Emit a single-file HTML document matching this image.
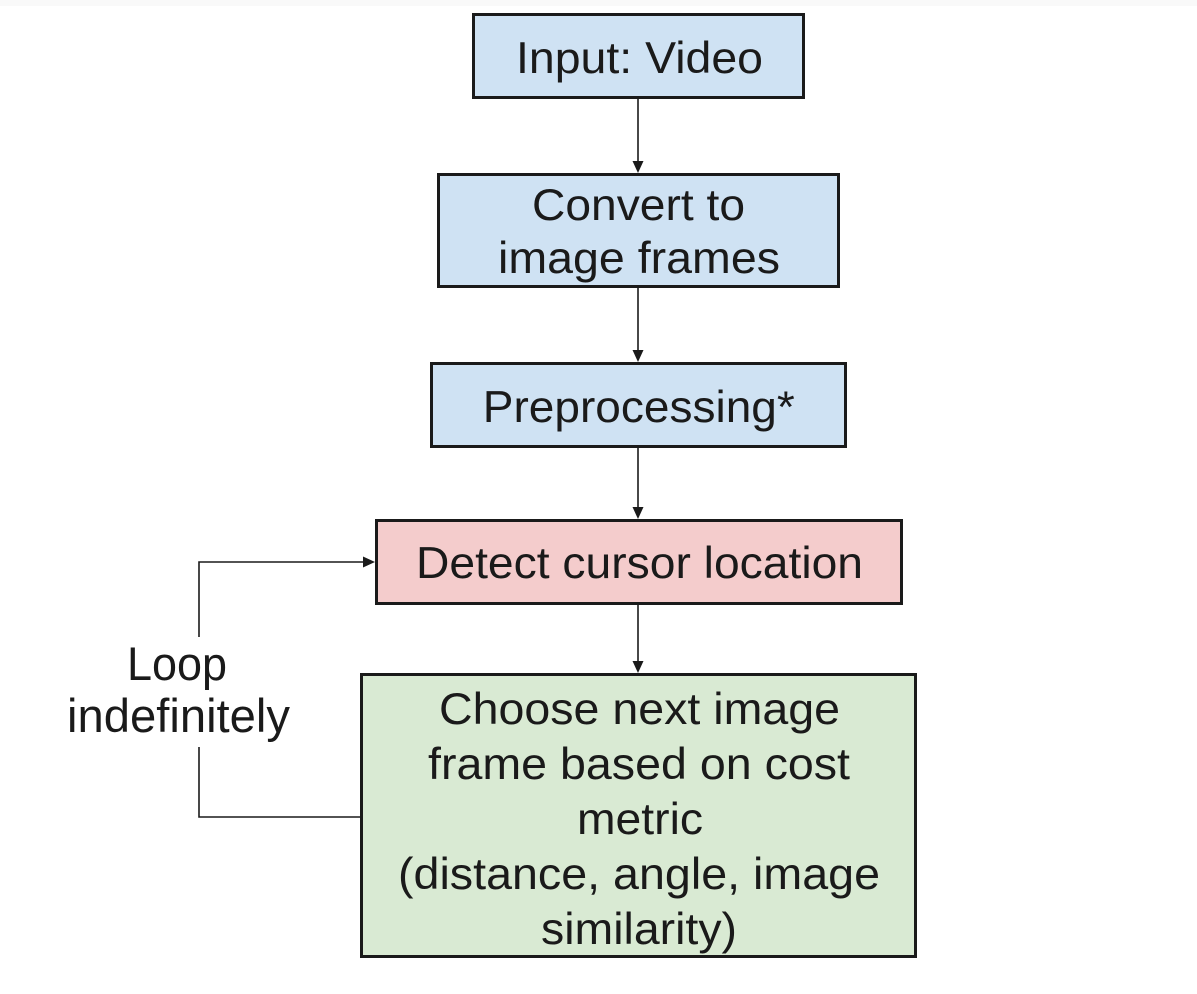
<!DOCTYPE html>
<html>
<head>
<meta charset="utf-8">
<style>
  html, body { margin: 0; padding: 0; background: #ffffff; }
  body { width: 1197px; height: 994px; overflow: hidden; }
  svg { display: block; }
  text { font-family: "Liberation Sans", Arial, sans-serif; fill: #1a1a1a; }
</style>
</head>
<body>
<svg width="1197" height="994" viewBox="0 0 1197 994" xmlns="http://www.w3.org/2000/svg">
  <rect x="0" y="0" width="1197" height="994" fill="#ffffff"/>
  <rect x="0" y="0" width="1197" height="6" fill="#f9f9f9"/>

  <!-- Connectors -->
  <g stroke="#1a1a1a" stroke-width="1.6" fill="none">
    <line x1="638" y1="99" x2="638" y2="162"/>
    <line x1="638" y1="288" x2="638" y2="351"/>
    <line x1="638" y1="448" x2="638" y2="508"/>
    <line x1="638" y1="605" x2="638" y2="662"/>
    <!-- loop -->
    <polyline points="199,637 199,562 364,562"/>
    <polyline points="199,747 199,817 361,817"/>
  </g>
  <g fill="#1a1a1a">
    <polygon points="632.5,161 643.5,161 638,173"/>
    <polygon points="632.5,350 643.5,350 638,362"/>
    <polygon points="632.5,507 643.5,507 638,519"/>
    <polygon points="632.5,661 643.5,661 638,673"/>
    <polygon points="363,556.5 363,567.5 375,562"/>
  </g>

  <!-- Boxes -->
  <g stroke="#1a1a1a" stroke-width="3">
    <rect x="473.5" y="14.5" width="330" height="83" fill="#cfe2f3"/>
    <rect x="438.5" y="174.5" width="400" height="112" fill="#cfe2f3"/>
    <rect x="431.5" y="363.5" width="414" height="83" fill="#cfe2f3"/>
    <rect x="376.5" y="520.5" width="525" height="83" fill="#f4cccc"/>
    <rect x="361.5" y="674.5" width="554" height="282" fill="#d9ead3"/>
  </g>

  <!-- Box text -->
  <g font-size="44.5" text-anchor="middle">
    <text x="639.5" y="73" textLength="247" lengthAdjust="spacingAndGlyphs">Input: Video</text>
    <text x="638.5" y="220" textLength="213" lengthAdjust="spacingAndGlyphs">Convert to</text>
    <text x="639" y="273" textLength="282" lengthAdjust="spacingAndGlyphs">image frames</text>
    <text x="638.8" y="422" textLength="312" lengthAdjust="spacingAndGlyphs">Preprocessing*</text>
    <text x="639.5" y="578" textLength="447" lengthAdjust="spacingAndGlyphs">Detect cursor location</text>
    <text x="639.5" y="724" textLength="401" lengthAdjust="spacingAndGlyphs">Choose next image</text>
    <text x="639" y="779" textLength="422" lengthAdjust="spacingAndGlyphs">frame based on cost</text>
    <text x="640" y="834" textLength="126" lengthAdjust="spacingAndGlyphs">metric</text>
    <text x="639" y="889" textLength="482" lengthAdjust="spacingAndGlyphs">(distance, angle, image</text>
    <text x="639" y="944" textLength="196" lengthAdjust="spacingAndGlyphs">similarity)</text>
  </g>

  <!-- Loop label -->
  <g font-size="47" text-anchor="middle">
    <text x="177" y="680" textLength="100" lengthAdjust="spacingAndGlyphs">Loop</text>
    <text x="178.5" y="732" textLength="223" lengthAdjust="spacingAndGlyphs">indefinitely</text>
  </g>
</svg>
</body>
</html>
